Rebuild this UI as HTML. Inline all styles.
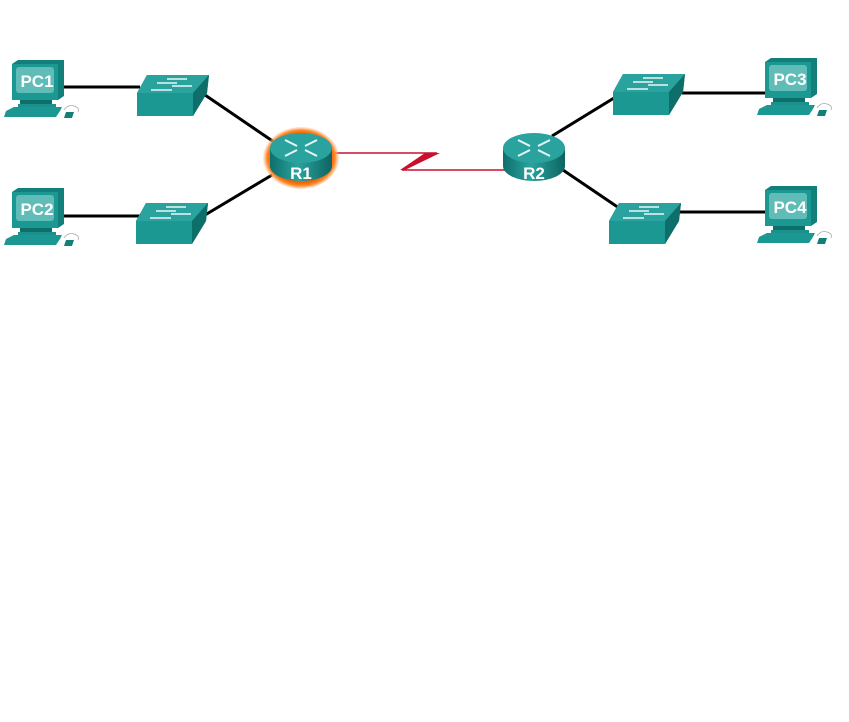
<!DOCTYPE html>
<html><head><meta charset="utf-8"><style>html,body{margin:0;padding:0;background:#fff;width:849px;height:722px;overflow:hidden}</style></head>
<body>
<svg width="849" height="722" viewBox="0 0 849 722" xmlns="http://www.w3.org/2000/svg" font-family="Liberation Sans, Arial, sans-serif">
<defs>
<linearGradient id="cyl" x1="0" x2="1" y1="0" y2="0">
<stop offset="0" stop-color="#0f6f6c"/><stop offset="0.45" stop-color="#2aa39e"/><stop offset="1" stop-color="#0d6461"/></linearGradient>
<radialGradient id="glow" cx="0.5" cy="0.5" r="0.5"><stop offset="0.8" stop-color="#f26400"/><stop offset="0.9" stop-color="#ff8a30"/><stop offset="1" stop-color="#ffc090" stop-opacity="0.3"/></radialGradient>
<g id="pc">
<polygon points="0,4 6,0 52,0 52,36 46,40 0,40" fill="#127f7b"/>
<rect x="0" y="4" width="46" height="36" fill="#1c9893"/>
<rect x="4" y="7" width="38" height="26" rx="3" fill="#5fbcb7"/>
<rect x="8" y="40" width="32" height="4" fill="#0e6e6a"/>
<rect x="6" y="44" width="38" height="4" fill="#1a918c"/>
<polygon points="-6,51 2,47 50,47 48,51 44,57 -8,57" fill="#1c9893"/>
<polygon points="54,52 62,52 60,58 52,58" fill="#127f7b"/>
<path d="M52,50 q4,-6 10,-4 q6,2 4,6" stroke="#aaa" fill="none" stroke-width="0.8"/>
</g>
<g id="sw">
<polygon points="0,18 10,0 72,0 70,18 56,41 0,41" fill="#127f7b"/>
<polygon points="0,18 10,0 72,0 56,18" fill="#2aa39e"/>
<rect x="0" y="18" width="56" height="23" fill="#1c9893"/>
<polygon points="56,18 72,0 70,18 56,41" fill="#0e6e6a"/>
<g stroke="#e8f6f5" stroke-width="1.4"><line x1="30" y1="4" x2="50" y2="4"/><line x1="20" y1="8" x2="40" y2="8"/><line x1="35" y1="11" x2="55" y2="11"/><line x1="14" y1="15" x2="35" y2="15"/></g>
</g>
<g id="rt">
<path d="M-31,-8 v18 a31,15 0 0 0 62,0 v-18 z" fill="url(#cyl)"/>
<ellipse cx="0" cy="-8" rx="31" ry="15" fill="#2aa39e"/>
<g stroke="#e8f6f5" stroke-width="2"><line x1="-16" y1="-16" x2="-4" y2="-10"/><line x1="16" y1="-16" x2="4" y2="-10"/><line x1="-16" y1="0" x2="-4" y2="-6"/><line x1="16" y1="0" x2="4" y2="-6"/></g>
</g>
</defs>
<g stroke="#000" stroke-width="3">
<line x1="64" y1="87" x2="140" y2="87"/><line x1="64" y1="216" x2="140" y2="216"/>
<line x1="205" y1="95" x2="274" y2="142"/><line x1="205" y1="215" x2="272" y2="175"/>
<line x1="552" y1="136" x2="614" y2="98"/><line x1="560" y1="168" x2="622" y2="210"/>
<line x1="682" y1="93" x2="768" y2="93"/><line x1="678" y1="212" x2="768" y2="212"/>
</g>
<polyline points="333,153 437,153 402,170 505,170" fill="none" stroke="#c8102e" stroke-width="1.6"/>
<polygon points="425,153 440,153 405,170 400,170" fill="#c8102e"/>
<use href="#pc" x="12" y="60"/>
<use href="#pc" x="12" y="188"/>
<use href="#pc" x="765" y="58"/>
<use href="#pc" x="765" y="186"/>
<text x="37" y="87" font-size="17" font-weight="bold" fill="#fff" text-anchor="middle">PC1</text>
<text x="37" y="215" font-size="17" font-weight="bold" fill="#fff" text-anchor="middle">PC2</text>
<text x="790" y="85" font-size="17" font-weight="bold" fill="#fff" text-anchor="middle">PC3</text>
<text x="790" y="213" font-size="17" font-weight="bold" fill="#fff" text-anchor="middle">PC4</text>
<use href="#sw" x="137" y="75"/>
<use href="#sw" x="136" y="203"/>
<use href="#sw" x="613" y="74"/>
<use href="#sw" x="609" y="203"/>
<ellipse cx="301" cy="158" rx="38" ry="31" fill="url(#glow)"/>
<use href="#rt" x="301" y="156"/>
<use href="#rt" x="534" y="156"/>
<text x="301" y="179" font-size="17" font-weight="bold" fill="#fff" text-anchor="middle">R1</text>
<text x="534" y="179" font-size="17" font-weight="bold" fill="#fff" text-anchor="middle">R2</text>
</svg>
</body></html>
